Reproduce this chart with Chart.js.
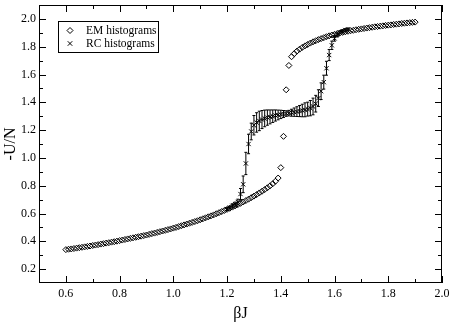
<!DOCTYPE html>
<html>
<head>
<meta charset="utf-8">
<script src="https://cdn.jsdelivr.net/npm/chart.js@4/dist/chart.umd.min.js"></script>
<style>
  html, body { margin: 0; padding: 0; background: #fff; }
  canvas { display: block; }
</style>
</head>
<body>
<canvas id="grafico" width="451" height="324"></canvas>
<script>
// EM histograms (diamonds)
const emBeta = [
  0.60,0.61,0.62,0.63,0.64,0.65,0.66,0.67,0.68,0.69,
  0.70,0.71,0.72,0.73,0.74,0.75,0.76,0.77,0.78,0.79,
  0.80,0.81,0.82,0.83,0.84,0.85,0.86,0.87,0.88,0.89,
  0.90,0.91,0.92,0.93,0.94,0.95,0.96,0.97,0.98,0.99,
  1.00,1.01,1.02,1.03,1.04,1.05,1.06,1.07,1.08,1.09,
  1.10,1.11,1.12,1.13,1.14,1.15,1.16,1.17,1.18,1.19,
  1.20,1.21,1.22,1.23,1.24,1.25,1.26,1.27,1.28,1.29,
  1.30,1.31,1.32,1.33,1.34,1.35,1.36,1.37,1.38,1.39,
  1.40,1.41,1.42,1.43,1.44,1.45,1.46,1.47,1.48,1.49,
  1.50,1.51,1.52,1.53,1.54,1.55,1.56,1.57,1.58,1.59,
  1.60,1.61,1.62,1.63,1.64,1.65,1.66,1.67,1.68,1.69,
  1.70,1.71,1.72,1.73,1.74,1.75,1.76,1.77,1.78,1.79,
  1.80,1.81,1.82,1.83,1.84,1.85,1.86,1.87,1.88,1.89,
  1.90
];
const emU = [
  0.340,0.343,0.345,0.348,0.351,0.354,0.357,0.360,0.363,0.366,
  0.370,0.373,0.376,0.380,0.383,0.387,0.390,0.394,0.397,0.401,
  0.405,0.409,0.413,0.417,0.421,0.425,0.429,0.433,0.437,0.441,
  0.445,0.450,0.455,0.459,0.464,0.469,0.474,0.479,0.484,0.489,
  0.495,0.500,0.506,0.512,0.518,0.524,0.530,0.536,0.542,0.548,
  0.555,0.562,0.569,0.576,0.583,0.590,0.598,0.606,0.614,0.622,
  0.630,0.638,0.646,0.655,0.664,0.673,0.683,0.693,0.703,0.714,
  0.725,0.736,0.748,0.760,0.772,0.785,0.799,0.814,0.832,0.855,
  0.930,1.155,1.490,1.665,1.728,1.750,1.768,1.782,1.795,1.806,
  1.816,1.826,1.835,1.843,1.851,1.858,1.865,1.872,1.878,1.884,
  1.889,1.894,1.899,1.903,1.907,1.911,1.915,1.918,1.922,1.925,
  1.928,1.931,1.934,1.937,1.940,1.943,1.945,1.948,1.950,1.953,
  1.955,1.957,1.960,1.962,1.964,1.967,1.969,1.971,1.973,1.975,
  1.977
];

// RC histograms (crosses with error bars)
const rcBeta = [
  1.20,1.21,1.22,1.23,1.24,1.25,1.26,1.27,1.28,1.29,
  1.30,1.31,1.32,1.33,1.34,1.35,1.36,1.37,1.38,1.39,
  1.40,1.41,1.42,1.43,1.44,1.45,1.46,1.47,1.48,1.49,
  1.50,1.51,1.52,1.53,1.54,1.55,1.56,1.57,1.58,1.59,
  1.60,1.61,1.62,1.63,1.64,1.65
];
const rcU = [
  0.632,0.642,0.655,0.667,0.683,0.740,0.810,0.960,1.100,1.190,
  1.235,1.255,1.266,1.276,1.284,1.290,1.295,1.300,1.305,1.309,
  1.313,1.316,1.319,1.322,1.325,1.329,1.333,1.337,1.341,1.346,
  1.351,1.358,1.370,1.390,1.430,1.480,1.545,1.645,1.740,1.810,
  1.860,1.885,1.903,1.912,1.920,1.925
];
const rcErr = [
  0.010,0.010,0.015,0.015,0.020,0.040,0.060,0.080,0.070,0.060,
  0.070,0.070,0.070,0.065,0.060,0.055,0.050,0.045,0.040,0.035,
  0.030,0.025,0.020,0.020,0.025,0.030,0.035,0.040,0.045,0.050,
  0.050,0.055,0.060,0.060,0.060,0.060,0.050,0.050,0.040,0.030,
  0.020,0.015,0.010,0.010,0.010,0.010
];

const xMajor = [0.6,0.8,1.0,1.2,1.4,1.6,1.8,2.0];
const xMinor = [0.7,0.9,1.1,1.3,1.5,1.7,1.9];
const yMajor = [0.2,0.4,0.6,0.8,1.0,1.2,1.4,1.6,1.8,2.0];
const yMinor = [0.3,0.5,0.7,0.9,1.1,1.3,1.5,1.7,1.9];

const fonte = 'Liberation Serif, Times New Roman, serif';

function pontos(xs, ys) {
  return xs.map((v, i) => ({ x: v, y: ys[i] }));
}

function desenhaDiamante(ctx, x, y, r) {
  ctx.beginPath();
  ctx.moveTo(x, y - r); ctx.lineTo(x + r, y); ctx.lineTo(x, y + r); ctx.lineTo(x - r, y);
  ctx.closePath();
  ctx.stroke();
}
function desenhaCruz(ctx, x, y, r) {
  const d = r * 0.7071;
  ctx.beginPath();
  ctx.moveTo(x - d, y - d); ctx.lineTo(x + d, y + d);
  ctx.moveTo(x + d, y - d); ctx.lineTo(x - d, y + d);
  ctx.stroke();
}

const molduraPlugin = {
  id: 'moldura',
  beforeDatasetsDraw(chart) {
    const { ctx, scales: { x, y } } = chart;
    ctx.save();
    ctx.strokeStyle = '#000';
    ctx.lineWidth = 1;
    ctx.beginPath();
    rcBeta.forEach((b, i) => {
      const px = x.getPixelForValue(b);
      const y1 = y.getPixelForValue(rcU[i] - rcErr[i]);
      const y2 = y.getPixelForValue(rcU[i] + rcErr[i]);
      ctx.moveTo(px, y1); ctx.lineTo(px, y2);
      ctx.moveTo(px - 1.5, y1); ctx.lineTo(px + 1.5, y1);
      ctx.moveTo(px - 1.5, y2); ctx.lineTo(px + 1.5, y2);
    });
    ctx.stroke();
    ctx.restore();
  },
  afterDraw(chart) {
    const { ctx, chartArea: a, scales: { x, y } } = chart;
    ctx.save();
    ctx.strokeStyle = '#000';
    ctx.lineWidth = 1;
    ctx.strokeRect(a.left + 0.5, a.top + 0.5, a.right - a.left - 1, a.bottom - a.top - 1);
    ctx.beginPath();
    const tx = (v, len) => {
      const p = Math.round(x.getPixelForValue(v)) + 0.5;
      ctx.moveTo(p, a.bottom); ctx.lineTo(p, a.bottom - len);
      ctx.moveTo(p, a.top); ctx.lineTo(p, a.top + len);
    };
    const ty = (v, len) => {
      const p = Math.round(y.getPixelForValue(v)) + 0.5;
      ctx.moveTo(a.left, p); ctx.lineTo(a.left + len, p);
      ctx.moveTo(a.right, p); ctx.lineTo(a.right - len, p);
    };
    xMajor.forEach(v => tx(v, 7));
    xMinor.forEach(v => tx(v, 4));
    yMajor.forEach(v => ty(v, 7));
    yMinor.forEach(v => ty(v, 4));
    ctx.stroke();

    // legenda
    const ds = chart.data.datasets;
    ctx.strokeRect(58.5, 21.5, 100, 31);
    desenhaDiamante(ctx, 70, 30.5, 3);
    desenhaCruz(ctx, 70, 43.5, 3.2);
    ctx.fillStyle = '#000';
    ctx.font = '11.5px ' + fonte;
    ctx.textBaseline = 'middle';
    ctx.textAlign = 'left';
    ctx.fillText(ds[0].label, 86, 30.5);
    ctx.fillText(ds[1].label, 86, 43.5);
    ctx.restore();
  }
};

new Chart(document.getElementById('grafico'), {
  type: 'scatter',
  data: {
    datasets: [{
      label: 'EM histograms',
      data: pontos(emBeta, emU),
      pointStyle: 'rectRot',
      pointRadius: 3,
      borderWidth: 1,
      borderColor: '#000',
      backgroundColor: 'rgba(0,0,0,0)',
      showLine: false
    }, {
      label: 'RC histograms',
      data: pontos(rcBeta, rcU),
      pointStyle: 'crossRot',
      pointRadius: 3,
      borderWidth: 1,
      borderColor: '#000',
      backgroundColor: '#000',
      showLine: false
    }]
  },
  options: {
    responsive: false,
    animation: false,
    devicePixelRatio: 1,
    events: [],
    layout: { padding: { left: 0, right: 9, top: 1, bottom: 0 } },
    plugins: {
      legend: { display: false },
      tooltip: { enabled: false }
    },
    scales: {
      x: {
        type: 'linear',
        min: 0.5,
        max: 2.0,
        afterBuildTicks: s => { s.ticks = xMajor.map(v => ({ value: v })); },
        afterFit: s => { s.height = 41; s.paddingLeft = 0; s.paddingRight = 0; },
        grid: { display: false, drawTicks: false },
        border: { display: false },
        ticks: {
          color: '#000',
          padding: 4,
          maxRotation: 0,
          autoSkip: false,
          font: { family: fonte, size: 12 },
          callback: v => v.toFixed(1)
        },
        title: {
          display: true,
          text: 'βJ',
          color: '#000',
          font: { family: fonte, size: 16 },
          padding: { top: 0, bottom: 1 }
        }
      },
      y: {
        type: 'linear',
        min: 0.1,
        max: 2.1,
        afterBuildTicks: s => { s.ticks = yMajor.map(v => ({ value: v })); },
        afterFit: s => { s.width = 39; s.paddingTop = 0; s.paddingBottom = 0; },
        grid: { display: false, drawTicks: false },
        border: { display: false },
        ticks: {
          color: '#000',
          padding: 3,
          autoSkip: false,
          font: { family: fonte, size: 12 },
          callback: v => v.toFixed(1)
        },
        title: {
          display: true,
          text: '-U/N',
          color: '#000',
          font: { family: fonte, size: 16 },
          padding: { top: 1, bottom: 0 }
        }
      }
    }
  },
  plugins: [molduraPlugin]
});
</script>
</body>
</html>
